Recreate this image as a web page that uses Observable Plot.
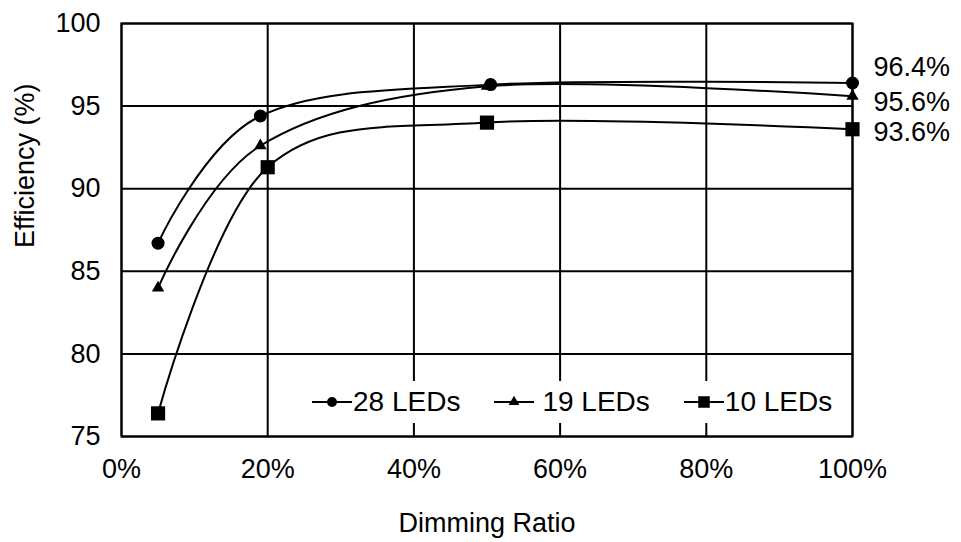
<!DOCTYPE html>
<html>
<head>
<meta charset="utf-8">
<script src="https://cdn.jsdelivr.net/npm/d3@7"></script>
<script src="https://cdn.jsdelivr.net/npm/@observablehq/plot@0.6"></script>
<style>
  body { margin: 0; background: #fff; font-family: "Liberation Sans", Arial, sans-serif; }
  #chart { position: relative; width: 961px; height: 542px; }
  .legend {
    position: absolute; left: 302px; top: 381px; height: 42px;
    background: #fff; display: flex; align-items: center; gap: 34px;
    padding: 0 8px 0 10px; font-size: 28px; color: #000;
  }
  .legend .item { display: flex; align-items: center; }
  .legend svg { display: block; }
  .legend span { margin-left: 1px; }
  .legend .item.spaced span { margin-left: 8px; }
</style>
</head>
<body>
<div id="chart"></div>
<script>
// Efficiency versus dimming ratio for three LED string lengths
const seriesNames = ["28 LEDs", "19 LEDs", "10 LEDs"];
const seriesSymbols = ["circle", "triangle", "square"];
const seriesRadius = [6.5, 4.6, 8];

const ratio28 = [5, 19, 50.5, 100];
const eff28   = [86.7, 94.4, 96.3, 96.4];

const ratio19 = [5, 19, 50, 100];
const eff19   = [84.0, 92.6, 96.2, 95.6];

const ratio10 = [5, 20, 50, 100];
const eff10   = [76.4, 91.3, 94.0, 93.6];

// value labels at full brightness
const endLabels = [96.4, 95.6, 93.6];
const endLabelShift = [-16, 6, 3];

const xTicks = [0, 20, 40, 60, 80, 100];
const yTicks = [75, 80, 85, 90, 95, 100];

const xTitle = "Dimming Ratio";
const yTitle = "Efficiency (%)";

const ratios = [ratio28, ratio19, ratio10];
const effs = [eff28, eff19, eff10];

const rows = seriesNames.flatMap((name, i) =>
  ratios[i].map((r, j) => ({series: name, ratio: r, eff: effs[i][j]}))
);

const dotMarks = seriesNames.map((name, i) =>
  Plot.dot(rows.filter(d => d.series === name), {
    x: "ratio", y: "eff", symbol: () => seriesSymbols[i], r: seriesRadius[i],
    fill: "#000", stroke: "none"
  })
);

const labelMarks = endLabels.map((v, i) =>
  Plot.text([v], {
    x: () => 100, y: d => d, text: d => d.toFixed(1) + "%",
    textAnchor: "start", dx: 21, dy: endLabelShift[i], fontSize: 27, fill: "#000"
  })
);

const chart = Plot.plot({
  width: 961,
  height: 542,
  marginLeft: 121,
  marginRight: 109,
  marginTop: 23,
  marginBottom: 106,
  style: {fontFamily: "'Liberation Sans', Arial, sans-serif", fontSize: "27px", color: "#000", background: "#fff"},
  x: {
    domain: [0, 100], ticks: xTicks, tickFormat: d => d + "%",
    tickSize: 0, tickPadding: 22,
    label: xTitle, labelAnchor: "center", labelOffset: 95, labelArrow: "none"
  },
  y: {
    domain: [75, 100], ticks: yTicks,
    tickSize: 0, tickPadding: 21,
    label: null
  },
  symbol: {type: "identity"},
  marks: [
    Plot.gridX(xTicks, {stroke: "#000", strokeOpacity: 1, strokeWidth: 2}),
    Plot.gridY(yTicks, {stroke: "#000", strokeOpacity: 1, strokeWidth: 2}),
    Plot.frame({stroke: "#000", strokeWidth: 2}),
    Plot.line(rows, {x: "ratio", y: "eff", z: "series", curve: "cardinal", tension: 0, stroke: "#000", strokeWidth: 2}),
    ...dotMarks,
    ...labelMarks,
    // vertical axis title, set slightly below the frame's middle
    Plot.text([yTitle], {
      frameAnchor: "left", rotate: -90, dx: -96, dy: 18,
      fontSize: 27, fill: "#000"
    })
  ]
});

const container = document.getElementById("chart");
container.appendChild(chart);

// legend drawn over the lower part of the plot area
const legend = document.createElement("div");
legend.className = "legend";
seriesNames.forEach((name, i) => {
  const item = document.createElement("div");
  item.className = i === 1 ? "item spaced" : "item";
  const svg = d3.create("svg").attr("width", 40).attr("height", 20);
  svg.append("line").attr("x1", 0).attr("x2", 40).attr("y1", 10).attr("y2", 10)
    .attr("stroke", "#000").attr("stroke-width", 2);
  const symbolType = {circle: d3.symbolCircle, triangle: d3.symbolTriangle, square: d3.symbolSquare}[seriesSymbols[i]];
  const legendR = [5, 4, 6.5][i];
  svg.append("path")
    .attr("d", d3.symbol(symbolType, Math.PI * legendR * legendR)())
    .attr("transform", "translate(20,10)").attr("fill", "#000");
  item.appendChild(svg.node());
  const label = document.createElement("span");
  label.textContent = name;
  item.appendChild(label);
  legend.appendChild(item);
});
container.appendChild(legend);
</script>
</body>
</html>
